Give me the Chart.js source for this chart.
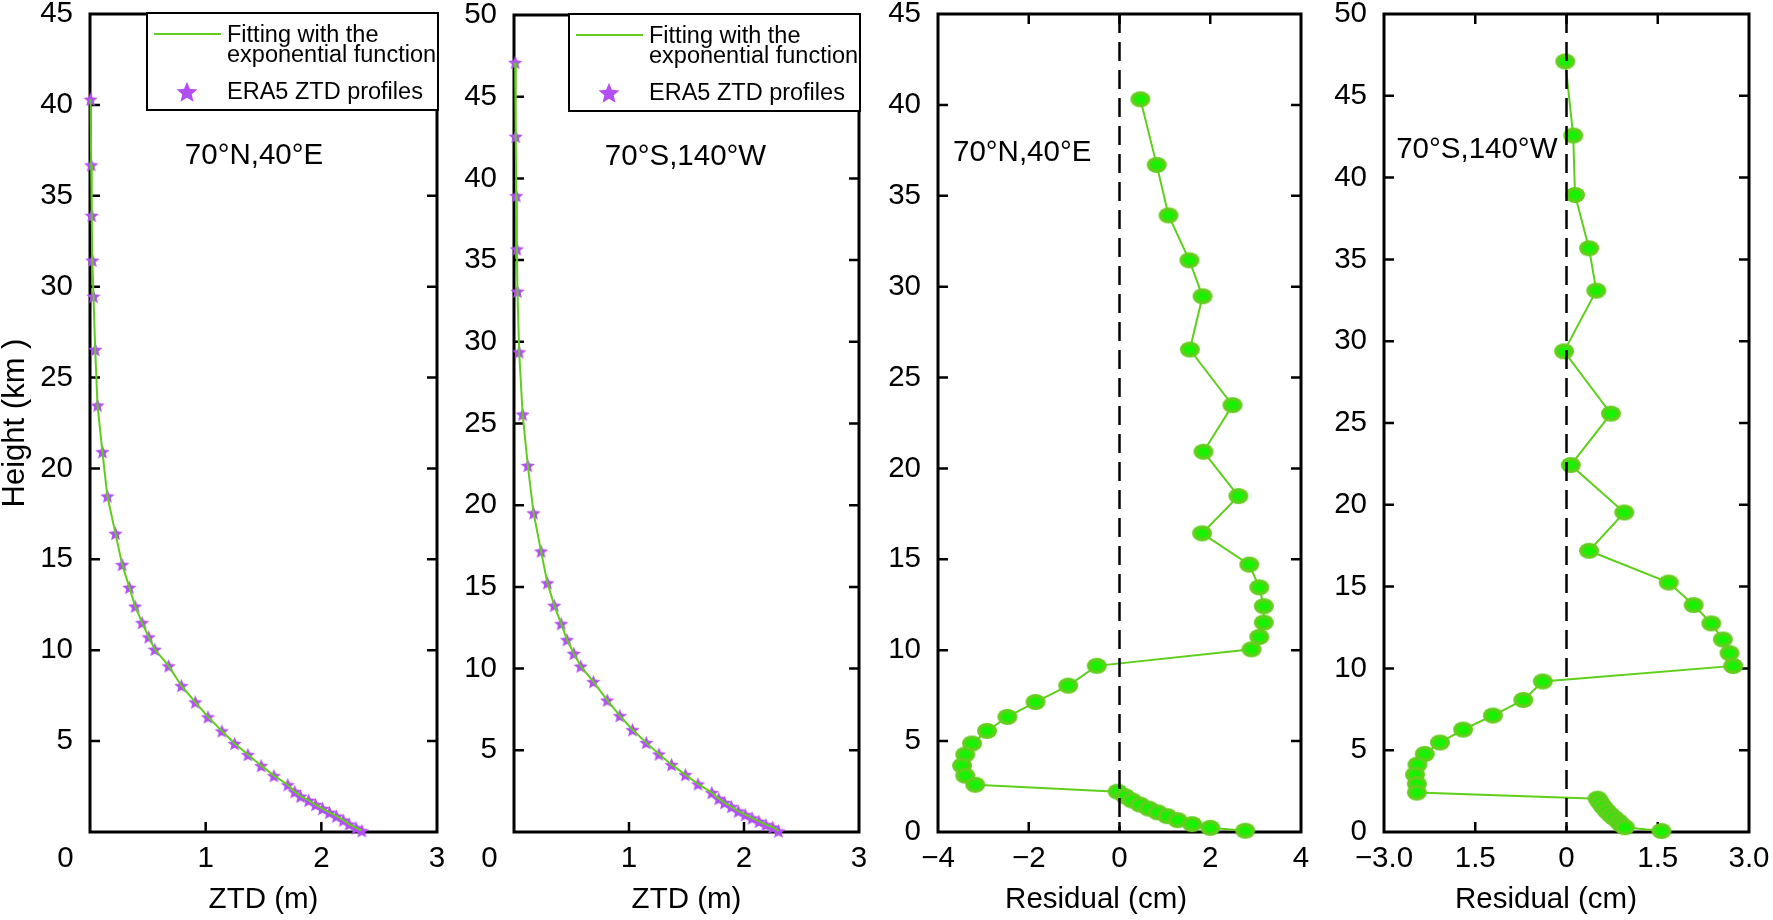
<!DOCTYPE html>
<html>
<head>
<meta charset="utf-8">
<script src="https://cdn.jsdelivr.net/npm/chart.js@4.4.0/dist/chart.umd.min.js"></script>
<style>
  html, body { margin: 0; padding: 0; background: #fff; }
  #wrap { position: relative; width: 1773px; height: 920px; overflow: hidden; }
  canvas { position: absolute; top: 0; }
</style>
</head>
<body>
<div id="wrap">
  <canvas id="c1" width="452" height="920" style="left:0px"></canvas>
  <canvas id="c2" width="420" height="920" style="left:452px"></canvas>
  <canvas id="c3" width="440" height="920" style="left:872px"></canvas>
  <canvas id="c4" width="461" height="920" style="left:1312px"></canvas>
</div>
<script>
// 70N,40E profile
const heightN = [40.31, 36.70, 33.92, 31.45, 29.47, 26.54, 23.48, 20.92, 18.48, 16.43, 14.71, 13.46, 12.42, 11.52, 10.73, 10.05, 9.14, 8.05, 7.15, 6.33, 5.56, 4.87, 4.26, 3.65, 3.10, 2.60, 2.22, 1.97, 1.74, 1.51, 1.29, 1.08, 0.87, 0.65, 0.43, 0.23, 0.07];
const ztdN = [0.005, 0.01, 0.015, 0.02, 0.03, 0.045, 0.065, 0.107, 0.15, 0.22, 0.278, 0.34, 0.39, 0.45, 0.507, 0.56, 0.68, 0.79, 0.91, 1.02, 1.14, 1.25, 1.365, 1.48, 1.59, 1.71, 1.77, 1.82, 1.89, 1.95, 2.01, 2.07, 2.13, 2.19, 2.24, 2.30, 2.35];
const residN = [0.46, 0.82, 1.08, 1.54, 1.83, 1.55, 2.49, 1.85, 2.62, 1.82, 2.86, 3.08, 3.18, 3.18, 3.08, 2.91, -0.5, -1.13, -1.85, -2.47, -2.92, -3.25, -3.40, -3.47, -3.40, -3.18, -0.04, 0.12, 0.27, 0.45, 0.64, 0.84, 1.05, 1.28, 1.6, 2.0, 2.77];

// 70S,140W profile
const heightS = [47.1, 42.57, 38.94, 35.68, 33.09, 29.38, 25.57, 22.43, 19.53, 17.19, 15.25, 13.87, 12.75, 11.77, 10.93, 10.15, 9.2, 8.07, 7.12, 6.26, 5.47, 4.77, 4.12, 3.51, 2.94, 2.41, 2.04, 1.80, 1.55, 1.28, 1.06, 0.86, 0.65, 0.45, 0.29, 0.06];
const ztdS = [0.01, 0.015, 0.02, 0.025, 0.03, 0.045, 0.075, 0.12, 0.17, 0.235, 0.29, 0.35, 0.41, 0.46, 0.52, 0.58, 0.69, 0.81, 0.92, 1.03, 1.15, 1.26, 1.37, 1.49, 1.60, 1.72, 1.78, 1.83, 1.89, 1.95, 2.01, 2.07, 2.13, 2.19, 2.25, 2.30];
const residS = [-0.02, 0.11, 0.14, 0.37, 0.49, -0.04, 0.73, 0.07, 0.95, 0.37, 1.68, 2.09, 2.38, 2.57, 2.68, 2.74, -0.39, -0.71, -1.21, -1.70, -2.08, -2.33, -2.45, -2.49, -2.46, -2.46, 0.51, 0.55, 0.6, 0.66, 0.72, 0.78, 0.85, 0.9, 0.96, 1.56];

// tick labels
const ztdTicks = ['0      ', '1', '2', '3'];
const residTicksN = ['\u22124', '\u22122', '0', '2', '4'];
const residTicksS = ['\u22123.0', '1.5', '0', '1.5', '3.0'];

const legendText = ['Fitting with the', 'exponential function', 'ERA5 ZTD profiles'];

const FONT = "'Liberation Sans', Arial, Helvetica, sans-serif";
Chart.defaults.font.family = FONT;
Chart.defaults.color = '#000';

const lineGreen = '#62cc1e';
const starPurple = '#b24ff2';

function starImage(r, color) {
  const c = document.createElement('canvas');
  const s = Math.ceil(r * 2 + 2);
  c.width = c.height = s;
  const g = c.getContext('2d');
  g.fillStyle = color;
  g.beginPath();
  for (let i = 0; i < 10; i++) {
    const rad = i % 2 ? r * 0.45 : r;
    const a = -Math.PI / 2 + i * Math.PI / 5;
    g.lineTo(s / 2 + rad * Math.cos(a), s / 2 + 0.8 + rad * Math.sin(a));
  }
  g.closePath();
  g.fill();
  return c;
}

function dotImage() {
  const c = document.createElement('canvas');
  c.width = 22; c.height = 18;
  const g = c.getContext('2d');
  g.fillStyle = '#5fcf1c';
  g.beginPath(); g.ellipse(11, 9, 10, 8, 0, 0, Math.PI * 2); g.fill();
  g.fillStyle = '#16f200';
  g.beginPath(); g.ellipse(11, 9, 6, 4.6, 0, 0, Math.PI * 2); g.fill();
  return c;
}

const smallStar = starImage(7.5, starPurple);
const bigStar = starImage(11, starPurple);
const dot = dotImage();

// matlab-like box with inward ticks
const frame = {
  id: 'frame',
  beforeDatasetsDraw(chart) {
    const { ctx: g, chartArea: a, scales: { x, y } } = chart;
    g.save();
    g.strokeStyle = '#000';
    g.lineWidth = 2.5;
    g.beginPath();
    x.ticks.forEach(t => {
      const p = x.getPixelForValue(t.value);
      if (p - a.left < 2 || a.right - p < 2) return;
      g.moveTo(p, a.bottom); g.lineTo(p, a.bottom - 10);
      g.moveTo(p, a.top); g.lineTo(p, a.top + 10);
    });
    y.ticks.forEach(t => {
      const p = y.getPixelForValue(t.value);
      if (p - a.top < 2 || a.bottom - p < 2) return;
      g.moveTo(a.left, p); g.lineTo(a.left + 10, p);
      g.moveTo(a.right, p); g.lineTo(a.right - 10, p);
    });
    g.stroke();
    g.lineWidth = 3;
    g.strokeRect(a.left, a.top, a.width, a.height);
    g.restore();
  }
};

const boxLegend = {
  id: 'boxLegend',
  afterDatasetsDraw(chart, args, opts) {
    if (!opts || !opts.show) return;
    const g = chart.ctx, a = chart.chartArea;
    const w = 291, h = 97;
    const L = a.right + 1 - w, T = a.top - 1;
    g.save();
    g.fillStyle = '#fff';
    g.fillRect(L, T, w, h);
    g.strokeStyle = '#000';
    g.lineWidth = 2;
    g.strokeRect(L, T, w, h);
    g.strokeStyle = lineGreen;
    g.lineWidth = 2;
    g.beginPath(); g.moveTo(L + 7, T + 21); g.lineTo(L + 74, T + 21); g.stroke();
    g.drawImage(bigStar, L + 40 - bigStar.width / 2, T + 79 - bigStar.height / 2);
    g.fillStyle = '#000';
    g.font = '23.5px ' + FONT;
    g.textAlign = 'left';
    g.textBaseline = 'alphabetic';
    g.fillText(legendText[0], L + 80, T + 29);
    g.fillText(legendText[1], L + 80, T + 49);
    g.fillText(legendText[2], L + 80, T + 86);
    g.restore();
  }
};

const note = {
  id: 'note',
  afterDatasetsDraw(chart, args, opts) {
    if (!opts || !opts.text) return;
    const g = chart.ctx;
    g.save();
    g.font = '29.5px ' + FONT;
    g.fillStyle = '#000';
    g.textAlign = 'left';
    g.textBaseline = 'middle';
    g.fillText(opts.text, chart.scales.x.getPixelForValue(opts.x), chart.scales.y.getPixelForValue(opts.y));
    g.restore();
  }
};

const tickFont = { size: 29.5, lineHeight: 1 };
const titleFont = { size: 29.5, lineHeight: 1 };
const yTitleFont = { size: 31, lineHeight: 1 };

function pts(xs, ys) {
  return xs.map((v, i) => ({ x: v, y: ys[i] }));
}

function profileSets(ztd, h) {
  return [
    { data: pts(ztd, h), showLine: true, borderColor: lineGreen, borderWidth: 2, pointRadius: 0, clip: false },
    { data: pts(ztd, h), showLine: false, pointStyle: smallStar, pointRadius: 7, clip: false }
  ];
}

function residSets(res, h, top) {
  return [
    { data: [{ x: 0, y: top }, { x: 0, y: 0 }], showLine: true, borderColor: '#000', borderWidth: 2.5, borderDash: [19, 9], pointRadius: 0 },
    { data: pts(res, h), showLine: true, borderColor: '#5fcf1c', borderWidth: 2, pointStyle: dot, pointRadius: 9, clip: false }
  ];
}

function makePanel(id, cfg) {
  new Chart(document.getElementById(id), {
    type: 'scatter',
    data: { datasets: cfg.datasets },
    options: {
      responsive: false,
      animation: false,
      devicePixelRatio: 1,
      events: [],
      layout: { padding: { left: 0, top: cfg.top, right: cfg.right, bottom: 0 } },
      plugins: {
        legend: { display: false },
        tooltip: { enabled: false },
        boxLegend: cfg.legend ? { show: true } : false,
        note: cfg.note
      },
      scales: {
        x: {
          type: 'linear', min: cfg.xMin, max: cfg.xMax,
          ticks: { stepSize: cfg.xStep, autoSkip: false, maxRotation: 0, padding: 12, font: tickFont,
                   callback: (v, i) => cfg.xLabels[i] },
          grid: { display: false, drawTicks: false },
          border: { display: false },
          title: { display: true, text: cfg.xTitle, font: titleFont, padding: { top: 0, bottom: 5 } },
          afterFit: s => { s.height = 88; s.paddingLeft = 0; s.paddingRight = 0; }
        },
        y: {
          type: 'linear', min: 0, max: cfg.yMax,
          ticks: { stepSize: 5, autoSkip: false, padding: 17, font: tickFont,
                   callback: v => (v === 0 && !cfg.yZero) ? '' : String(v) },
          grid: { display: false, drawTicks: false },
          border: { display: false },
          title: { display: !!cfg.yTitle, text: cfg.yTitle || '', font: yTitleFont, padding: { top: 0, bottom: 0 } },
          afterFit: s => { s.width = cfg.yWidth; s.paddingTop = 0; s.paddingBottom = 0; }
        }
      }
    },
    plugins: [frame, boxLegend, note]
  });
}

makePanel('c1', {
  datasets: profileSets(ztdN, heightN),
  xMin: 0, xMax: 3, xStep: 1, xLabels: ztdTicks, xTitle: 'ZTD (m)',
  yMax: 45, yZero: false, yTitle: 'Height (km )', yWidth: 90,
  top: 14, right: 15, legend: true,
  note: { text: '70\u00b0N,40\u00b0E', x: 0.82, y: 37.2 }
});

makePanel('c2', {
  datasets: profileSets(ztdS, heightS),
  xMin: 0, xMax: 3, xStep: 1, xLabels: ztdTicks, xTitle: 'ZTD (m)',
  yMax: 50, yZero: false, yWidth: 62,
  top: 15, right: 13, legend: true,
  note: { text: '70\u00b0S,140\u00b0W', x: 0.79, y: 41.3 }
});

makePanel('c3', {
  datasets: residSets(residN, heightN, 45),
  xMin: -4, xMax: 4, xStep: 2, xLabels: residTicksN, xTitle: 'Residual (cm)     \u2009',
  yMax: 45, yZero: true, yWidth: 66,
  top: 14, right: 11, legend: false,
  note: { text: '70\u00b0N,40\u00b0E', x: -3.67, y: 37.35 }
});

makePanel('c4', {
  datasets: residSets(residS, heightS, 50),
  xMin: -3, xMax: 3, xStep: 1.5, xLabels: residTicksS, xTitle: 'Residual (cm)     ',
  yMax: 50, yZero: true, yWidth: 72,
  top: 14, right: 24, legend: false,
  note: { text: '70\u00b0S,140\u00b0W', x: -2.80, y: 41.7 }
});
</script>
</body>
</html>
